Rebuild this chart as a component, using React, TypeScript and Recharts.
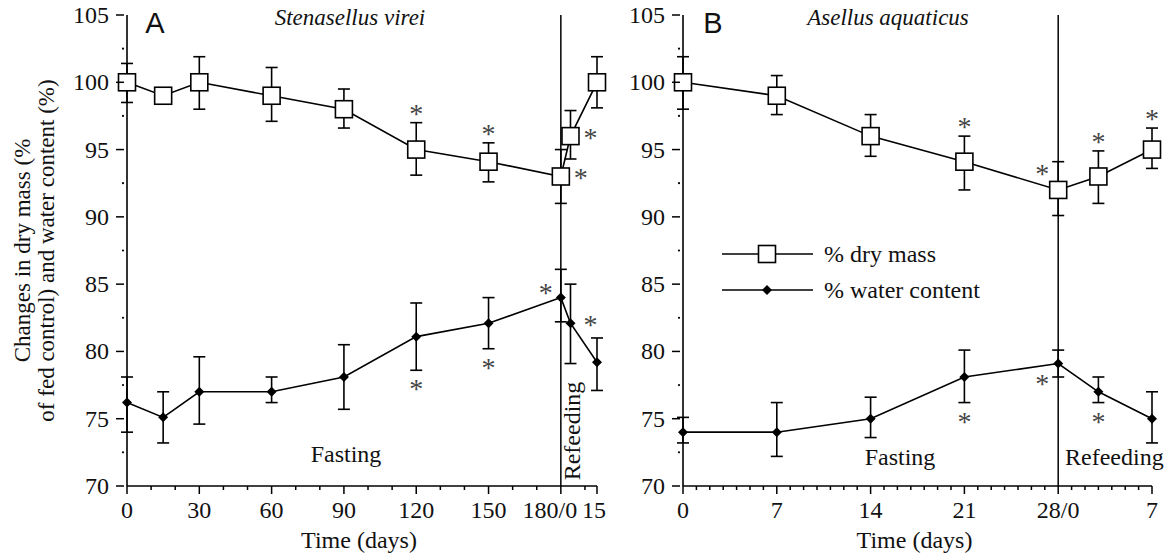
import React from "react";
import { LineChart, Line, XAxis, YAxis, ErrorBar, ReferenceLine, Legend } from "recharts";

const SERIF = '"Liberation Serif", "Times New Roman", serif';
const SANS = '"Liberation Sans", Arial, sans-serif';

// Panel A - Stenasellus virei: 180 d fasting, refeeding days plotted after 180
const daysA = [0, 15, 30, 60, 90, 120, 150, 180, 184, 195];
const dryA = [100, 99, 100, 99, 98, 95, 94.1, 93, 96, 100];
const dryHiA = [101.4, 99, 101.9, 101.1, 99.5, 97, 95.5, 95, 97.9, 101.9];
const dryLoA = [98.5, 99, 98, 97.1, 96.6, 93.1, 92.6, 91, 94.3, 98.1];
const waterA = [76.2, 75.1, 77, 77, 78.1, 81.1, 82.1, 84, 82.1, 79.2];
const waterHiA = [78.1, 77, 79.6, 78.1, 80.5, 83.6, 84, 86.1, 85, 81];
const waterLoA = [74, 73.2, 74.6, 76.2, 75.7, 78.6, 80.2, 82.2, 79.1, 77.1];
const starsDryA = ["", "", "", "", "", "above", "above", "right", "right", ""];
const starsWaterA = ["", "", "", "", "", "below", "below", "left", "right", ""];
const majorTicksA = [0, 30, 60, 90, 120, 150, 180, 195];
const tickLabelsA = ["0", "30", "60", "90", "120", "150", "180/0", "15"];
const minorTicksA = [10, 20, 40, 50, 70, 80, 100, 110, 130, 140, 160, 170, 190];
const labelNudgeA = { 180: -11, 195: -3 };

// Panel B - Asellus aquaticus: 28 d fasting, refeeding days plotted after 28
const daysB = [0, 7, 14, 21, 28, 31, 35];
const dryB = [100, 99, 96, 94.1, 92, 93, 95];
const dryHiB = [101.9, 100.5, 97.6, 96, 94.1, 94.9, 96.6];
const dryLoB = [98, 97.6, 94.5, 92, 90.1, 91, 93.6];
const waterB = [74, 74, 75, 78.1, 79.1, 77, 75];
const waterHiB = [75.1, 76.2, 76.6, 80.1, 80.1, 78.1, 77];
const waterLoB = [73.2, 72.2, 73.6, 76.2, 78.1, 76.2, 73.2];
const starsDryB = ["", "", "", "above", "upleft", "above", "above"];
const starsWaterB = ["", "", "", "below", "downleft", "below", ""];
const majorTicksB = [0, 7, 14, 21, 28, 35];
const tickLabelsB = ["0", "7", "14", "21", "28/0", "7"];
const minorTicksB = Array.from({ length: 35 }, (_, i) => i).filter((d) => d % 7 !== 0);

const majorTicksY = [70, 75, 80, 85, 90, 95, 100, 105];
const minorTicksY = [72.5, 77.5, 82.5, 87.5, 92.5, 97.5, 102.5];

const H = 558;
const TOP = 15;
const XAXIS_H = 72;
const PX_PER_UNIT = (H - TOP - XAXIS_H) / 35;

const buildRows = (days, dry, dryHi, dryLo, water, waterHi, waterLo) =>
  days.map((day, i) => ({
    day,
    dry: dry[i],
    dryErr: [dry[i] - dryLo[i], dryHi[i] - dry[i]],
    water: water[i],
    waterErr: [water[i] - waterLo[i], waterHi[i] - water[i]],
  }));

const rowsA = buildRows(daysA, dryA, dryHiA, dryLoA, waterA, waterHiA, waterLoA);
const rowsB = buildRows(daysB, dryB, dryHiB, dryLoB, waterB, waterHiB, waterLoB);

const SquareDot = (p: any) => {
  const { cx, cy, index } = p;
  if (cx == null || cy == null) return null;
  return (
    <rect key={`sq-${index}`} x={cx - 8.5} y={cy - 8.5} width={17} height={17}
      fill="#fff" stroke="#000" strokeWidth={1.6} />
  );
};

const DiamondDot = (p: any) => {
  const { cx, cy, index } = p;
  if (cx == null || cy == null) return null;
  return (
    <polygon key={`dm-${index}`}
      points={`${cx},${cy - 5} ${cx + 5},${cy} ${cx},${cy + 5} ${cx - 5},${cy}`}
      fill="#000" />
  );
};

const starOffsets = {
  right: [20, -2],
  left: [-15, -9],
  upleft: [-16, -20],
  downleft: [-16, 16],
};

const makeStarLabel = (rows, key, stars) => (p: any) => {
  const i = p.index;
  const kind = stars[i];
  if (!kind) return null;
  const vb = p.viewBox || {};
  const x = p.x ?? vb.x;
  const y = p.y ?? vb.y;
  if (x == null || y == null) return null;
  const [lo, hi] = rows[i][`${key}Err`];
  let cx = x;
  let cy = y;
  if (kind === "above") cy = y - hi * PX_PER_UNIT - 13;
  else if (kind === "below") cy = y + lo * PX_PER_UNIT + 15;
  else {
    cx = x + starOffsets[kind][0];
    cy = y + starOffsets[kind][1];
  }
  return (
    <text key={`st-${key}-${i}`} x={cx} y={cy + 13} textAnchor="middle"
      fontSize={28} fontFamily={SERIF} fill="#444">*</text>
  );
};

const XTick = ({ x, y, payload, majors, labels, nudge }: any) => {
  const i = majors.indexOf(payload.value);
  const major = i >= 0;
  const dx = (nudge && nudge[payload.value]) || 0;
  return (
    <g>
      <line x1={x} x2={x} y1={y} y2={y + (major ? 8 : 4)} stroke="#000" strokeWidth={1.5} />
      {major && (
        <text x={x + dx} y={y + 32} textAnchor="middle" fontSize={24} fontFamily={SERIF} fill="#111">
          {labels[i]}
        </text>
      )}
    </g>
  );
};

const YTick = ({ x, y, payload }: any) => {
  const major = majorTicksY.includes(payload.value);
  if (!major) return <circle cx={x - 4} cy={y} r={1.1} fill="#000" />;
  return (
    <g>
      <line x1={x - 11} x2={x - 3} y1={y} y2={y} stroke="#000" strokeWidth={1.5} />
      <text x={x - 18} y={y + 8} textAnchor="end" fontSize={24} fontFamily={SERIF} fill="#111">
        {payload.value}
      </text>
    </g>
  );
};

const TimeTitle = ({ viewBox }: any) => (
  <text x={viewBox.x + viewBox.width / 2 - 3} y={viewBox.y + 62} textAnchor="middle"
    fontSize={24} fontFamily={SERIF} fill="#111">Time (days)</text>
);

const YTitle = ({ viewBox }: any) => {
  const cy = viewBox.y + viewBox.height / 2;
  return (
    <g fontSize={23} fontFamily={SERIF} fill="#111" textAnchor="middle">
      <text x={22} y={cy} dominantBaseline="central" transform={`rotate(-90 22 ${cy})`}>
        Changes in dry mass (%
      </text>
      <text x={46} y={cy} dominantBaseline="central" transform={`rotate(-90 46 ${cy})`}>
        of fed control) and water content (%)
      </text>
    </g>
  );
};

const LegendBox = ({ payload }: any) => (
  <div style={{ fontFamily: SERIF, fontSize: 24, color: "#111" }}>
    {(payload || []).filter((e) => e.type !== "none").map((entry) => (
      <div key={entry.value} style={{ display: "flex", alignItems: "center", height: 36 }}>
        <svg width={91} height={36}>
          <line x1={0} x2={91} y1={18} y2={18} stroke="#000" strokeWidth={1.6} />
          {entry.dataKey === "dry" ? (
            <rect x={36.5} y={9.5} width={17} height={17} fill="#fff" stroke="#000" strokeWidth={1.6} />
          ) : (
            <polygon points="45,13 50,18 45,23 40,18" fill="#000" />
          )}
        </svg>
        <span style={{ marginLeft: 11 }}>{entry.value}</span>
      </div>
    ))}
  </div>
);

const Panel = ({ rows, width, yWidth, right, domainMax, majors, minors, labels, nudge,
  refX, starsDry, starsWater, showYTitle, showLegend }: any) => (
  <LineChart width={width} height={H} data={rows}
    margin={{ top: TOP, right, bottom: 0, left: 0 }}>
    <XAxis type="number" dataKey="day" domain={[0, domainMax]}
      ticks={[...majors, ...minors].sort((a, b) => a - b)} interval={0}
      tickSize={0} tickMargin={0} tickLine={false} height={XAXIS_H}
      axisLine={{ stroke: "#000", strokeWidth: 1.6 }}
      tick={(p) => <XTick {...p} majors={majors} labels={labels} nudge={nudge} />}
      label={<TimeTitle />} />
    <YAxis type="number" domain={[70, 105]}
      ticks={[...majorTicksY, ...minorTicksY].sort((a, b) => a - b)} interval={0}
      tickSize={0} tickMargin={0} tickLine={false} width={yWidth}
      axisLine={{ stroke: "#000", strokeWidth: 1.6 }}
      tick={(p) => <YTick {...p} />}
      label={showYTitle ? <YTitle /> : undefined} />
    <ReferenceLine x={refX} stroke="#000" strokeWidth={1.5} />
    {showLegend && (
      <Legend layout="horizontal" verticalAlign="middle" align="center"
        content={(p) => <LegendBox {...p} />}
        wrapperStyle={{ left: 112, top: 236, width: "auto", height: "auto" }} />
    )}
    {/* lines + error bars first, markers on top so bars stop at the squares */}
    <Line dataKey="dry" name="% dry mass" stroke="#000" strokeWidth={1.6}
      dot={false} activeDot={false} isAnimationActive={false}>
      <ErrorBar dataKey="dryErr" direction="y" width={6} stroke="#000" strokeWidth={1.6} />
    </Line>
    <Line dataKey="water" name="% water content" stroke="#000" strokeWidth={1.6}
      dot={false} activeDot={false} isAnimationActive={false}>
      <ErrorBar dataKey="waterErr" direction="y" width={6} stroke="#000" strokeWidth={1.6} />
    </Line>
    <Line dataKey="dry" name="dry markers" legendType="none" stroke="none"
      dot={SquareDot} activeDot={false} isAnimationActive={false}
      label={makeStarLabel(rows, "dry", starsDry)} />
    <Line dataKey="water" name="water markers" legendType="none" stroke="none"
      dot={DiamondDot} activeDot={false} isAnimationActive={false}
      label={makeStarLabel(rows, "water", starsWater)} />
  </LineChart>
);

export default function App() {
  return (
    <div style={{ position: "absolute", left: 0, top: 0, width: 1166, height: H, background: "#fff" }}>
      <div style={{ position: "absolute", left: 0, top: 0 }}>
        <Panel rows={rowsA} width={610} yWidth={127} right={13} domainMax={195}
          majors={majorTicksA} minors={minorTicksA} labels={tickLabelsA} nudge={labelNudgeA}
          refX={180} starsDry={starsDryA} starsWater={starsWaterA} showYTitle />
      </div>
      <div style={{ position: "absolute", left: 610, top: 0 }}>
        <Panel rows={rowsB} width={556} yWidth={73} right={14} domainMax={35}
          majors={majorTicksB} minors={minorTicksB} labels={tickLabelsB} refX={28}
          starsDry={starsDryB} starsWater={starsWaterB} showLegend />
      </div>
      <svg width={1166} height={H} style={{ position: "absolute", left: 0, top: 0, pointerEvents: "none" }}>
        <g fontFamily={SANS} fontSize={29} fill="#111" textAnchor="middle">
          <text x={155} y={33}>A</text>
          <text x={713} y={33}>B</text>
        </g>
        <g fontFamily={SERIF} fontSize={23} fontStyle="italic" fill="#111" textAnchor="middle">
          <text x={350} y={25}>Stenasellus virei</text>
          <text x={888} y={25}>Asellus aquaticus</text>
        </g>
        <g fontFamily={SERIF} fontSize={24} fill="#111">
          <text x={346} y={462} textAnchor="middle">Fasting</text>
          <text x={900} y={465} textAnchor="middle">Fasting</text>
          <text x={1065} y={465}>Refeeding</text>
          <text x={580} y={431} textAnchor="middle" transform="rotate(-90 580 431)">Refeeding</text>
        </g>
      </svg>
    </div>
  );
}
